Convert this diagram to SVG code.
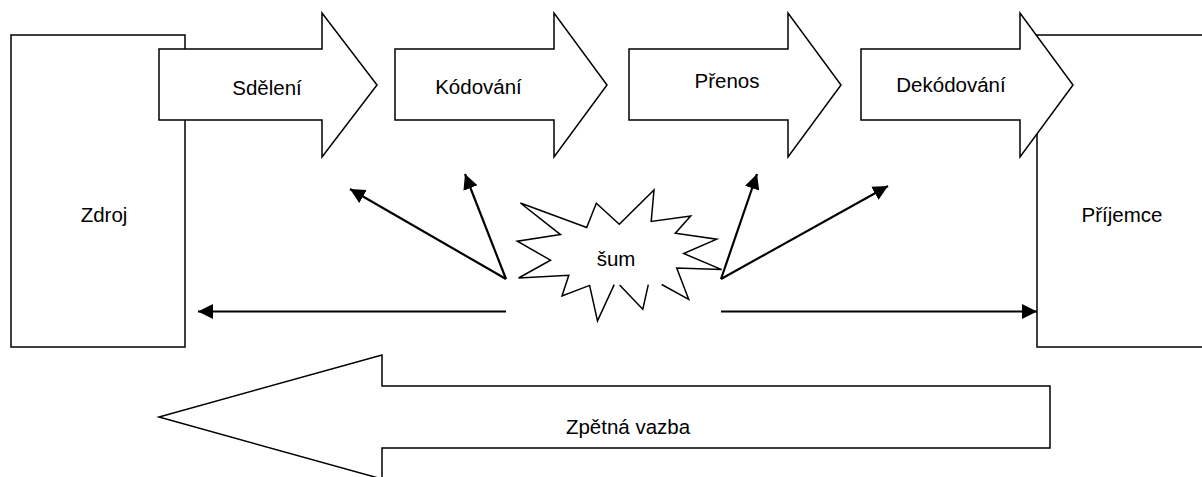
<svg xmlns="http://www.w3.org/2000/svg" width="1202" height="477" viewBox="0 0 1202 477">
<style>
.shape{fill:#fff;stroke:#000;stroke-width:1.5;stroke-linejoin:miter}
.lbl{font-family:"Liberation Sans",Arial,sans-serif;font-size:20.5px;fill:#000;text-anchor:middle}
.conn{stroke:#000;stroke-width:2.2;fill:none}
</style>
<defs>
<marker id="ah" markerUnits="userSpaceOnUse" markerWidth="16" markerHeight="16" viewBox="0 0 16 15" refX="15" refY="7.5" orient="auto">
<path d="M0,0 L15,7.5 L0,15 Z" fill="#000"/>
</marker>
<clipPath id="clipS"><rect x="150" y="0" width="250" height="95.5"/></clipPath>
</defs>
<rect width="1202" height="477" fill="#fff"/>
<g id="zdroj">
<rect class="shape" x="11" y="35" width="174" height="312"/>
<text class="lbl" x="104" y="222">Zdroj</text>
</g>
<g id="prijemce">
<rect class="shape" x="1037" y="35" width="180" height="312"/>
<text class="lbl" x="1122" y="222">Příjemce</text>
</g>
<g id="sdeleni">
<path class="shape" d="M159,49 L322,49 L322,13 L377,85 L322,157 L322,120 L159,120 Z"/>
<text class="lbl" x="267" y="95" clip-path="url(#clipS)">Sdělení</text>
</g>
<g id="kodovani">
<path class="shape" d="M395,49 L554,49 L554,13 L607,85 L554,157 L554,120 L395,120 Z"/>
<text class="lbl" x="478.5" y="94">Kódování</text>
</g>
<g id="prenos">
<path class="shape" d="M629,49 L788,49 L788,13 L841,85 L788,157 L788,120 L629,120 Z"/>
<text class="lbl" x="727" y="88">Přenos</text>
</g>
<g id="dekodovani">
<path class="shape" d="M861,49 L1020,49 L1020,13 L1073,85 L1020,157 L1020,120 L861,120 Z"/>
<text class="lbl" x="951" y="92">Dekódování</text>
</g>
<g id="zpetna-vazba">
<path class="shape" d="M1050,386 L382,386 L382,355 L159,417 L382,479 L382,448 L1050,448 Z"/>
<text class="lbl" x="628" y="434">Zpětná vazba</text>
</g>
<g id="sum">
<path d="M661.7,284.5 L688.7,299.3 L676.7,268 L721.7,269.6 L683.7,253.5 L716.7,239.2 L675.3,233.3 L690.7,216 L651.2,221.4 L654,190 L619.3,224.2 L596.3,203.3 L586.7,227.5 L520.4,203 L560.5,234.6 L517.3,241.2 L550.5,260.2 L518.6,278 L568.8,275.2 L562,296 L589.6,285.4 L597.5,320.8 L614.2,284.6 M619.6,285 L642.8,309.2 L648.3,284.6" fill="none" stroke="#000" stroke-width="1.5" stroke-linejoin="miter"/>
<text class="lbl" x="616" y="266">šum</text>
</g>
<g id="connectors">
<line class="conn" x1="506" y1="311.5" x2="198" y2="311.5" marker-end="url(#ah)"/>
<line class="conn" x1="721" y1="311.5" x2="1037" y2="311.5" marker-end="url(#ah)"/>
<line class="conn" x1="506" y1="279" x2="350" y2="189" marker-end="url(#ah)"/>
<line class="conn" x1="506" y1="279" x2="465" y2="174" marker-end="url(#ah)"/>
<line class="conn" x1="721" y1="279" x2="757" y2="174" marker-end="url(#ah)"/>
<line class="conn" x1="721" y1="279" x2="888" y2="186" marker-end="url(#ah)"/>
</g>
</svg>
